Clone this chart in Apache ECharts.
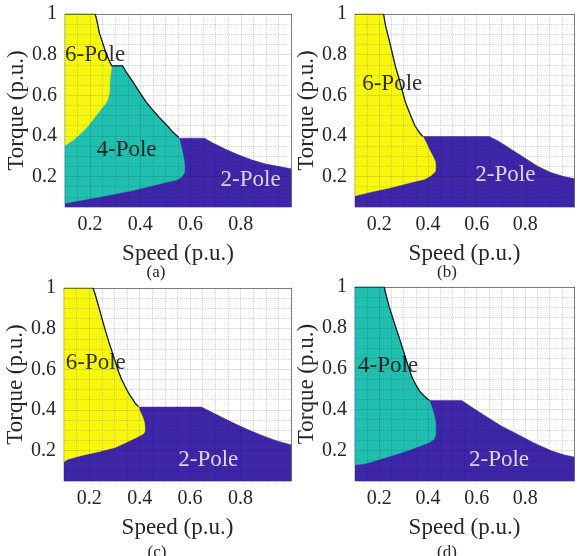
<!DOCTYPE html>
<html>
<head>
<meta charset="utf-8">
<script src="https://cdn.jsdelivr.net/npm/echarts@6/dist/echarts.min.js"></script>
<style>
  html, body { margin: 0; padding: 0; background: #fff; }
  #chart { width: 577px; height: 556px; }
</style>
</head>
<body>
<div id="chart"></div>
<script>
// boundaries, as [speed, torque] in p.u.
// envTop: upper envelope from the top-left corner down to where the 2-pole strip starts
// envRight: upper edge of the 2-pole strip out to speed = 1
// edge: outline of the low-speed region from that corner down to speed = 0.1

// (a)
const envTopA = [[0.1, 1], [0.22, 1], [0.226, 0.972], [0.237, 0.906], [0.25, 0.857], [0.263, 0.808],
  [0.277, 0.767], [0.286, 0.745], [0.329, 0.745], [0.342, 0.718], [0.369, 0.668], [0.395, 0.619],
  [0.421, 0.57], [0.448, 0.529], [0.474, 0.493], [0.5, 0.46], [0.527, 0.422], [0.553, 0.392]];
const envRightA = [[0.553, 0.389], [0.656, 0.389], [0.685, 0.368], [0.738, 0.335], [0.79, 0.307],
  [0.843, 0.282], [0.896, 0.263], [0.948, 0.25], [1.0, 0.238]];
const edgeA = [[0.56, 0.365], [0.566, 0.332], [0.573, 0.291], [0.577, 0.25], [0.576, 0.22], [0.564, 0.197],
  [0.547, 0.184], [0.5, 0.171], [0.435, 0.151], [0.369, 0.131], [0.303, 0.115], [0.237, 0.099],
  [0.171, 0.085], [0.1, 0.069]];
// 6-pole / 4-pole split inside (a)
const splitA = [[0.1, 0.353], [0.132, 0.378], [0.158, 0.406], [0.184, 0.438], [0.211, 0.479],
  [0.237, 0.521], [0.261, 0.558], [0.27, 0.578], [0.277, 0.611], [0.279, 0.677], [0.286, 0.745]];

// (b)
const envTopB = [[0.1, 1], [0.217, 1], [0.226, 0.939], [0.24, 0.874], [0.253, 0.808], [0.266, 0.742],
  [0.28, 0.685], [0.293, 0.627], [0.306, 0.57], [0.319, 0.529], [0.333, 0.488], [0.346, 0.45],
  [0.366, 0.414], [0.379, 0.397]];
const envRightB = [[0.379, 0.397], [0.652, 0.397], [0.692, 0.373], [0.745, 0.332], [0.798, 0.291],
  [0.851, 0.25], [0.905, 0.22], [0.958, 0.2], [1.0, 0.19]];
const edgeB = [[0.393, 0.365], [0.406, 0.332], [0.419, 0.302], [0.43, 0.274], [0.432, 0.25], [0.43, 0.225],
  [0.412, 0.204], [0.386, 0.187], [0.346, 0.176], [0.293, 0.159], [0.24, 0.143], [0.173, 0.126],
  [0.1, 0.105]];

// (c)
const envTopC = [[0.1, 1], [0.215, 1], [0.224, 0.967], [0.237, 0.91], [0.25, 0.852], [0.263, 0.795],
  [0.277, 0.737], [0.29, 0.688], [0.303, 0.639], [0.316, 0.589], [0.329, 0.548], [0.342, 0.516],
  [0.356, 0.483], [0.369, 0.458], [0.382, 0.433], [0.395, 0.417]];
const envRightC = [[0.395, 0.414], [0.645, 0.414], [0.698, 0.381], [0.764, 0.34], [0.83, 0.302],
  [0.896, 0.269], [0.948, 0.246], [1.0, 0.228]];
const edgeC = [[0.402, 0.392], [0.411, 0.368], [0.418, 0.343], [0.421, 0.319], [0.421, 0.294],
  [0.415, 0.282], [0.395, 0.269], [0.369, 0.253], [0.303, 0.215], [0.237, 0.194], [0.171, 0.176],
  [0.118, 0.158], [0.1, 0.145]];

// (d)
const envTopD = [[0.1, 1], [0.22, 1], [0.229, 0.954], [0.24, 0.905], [0.253, 0.856], [0.266, 0.807],
  [0.28, 0.758], [0.293, 0.709], [0.306, 0.66], [0.319, 0.611], [0.333, 0.562], [0.346, 0.529],
  [0.366, 0.489], [0.386, 0.464], [0.406, 0.444]];
const envRightD = [[0.406, 0.444], [0.539, 0.444], [0.585, 0.407], [0.639, 0.366], [0.705, 0.317],
  [0.772, 0.276], [0.838, 0.235], [0.905, 0.199], [0.958, 0.178], [1.0, 0.168]];
const edgeD = [[0.415, 0.415], [0.423, 0.382], [0.43, 0.35], [0.432, 0.317], [0.432, 0.276],
  [0.425, 0.255], [0.406, 0.239], [0.373, 0.224], [0.306, 0.194], [0.24, 0.17], [0.173, 0.145],
  [0.139, 0.134], [0.1, 0.129]];

// region labels: [speed, torque, text]
const labelsA = [[0.22, 0.796, '6-Pole'], [0.345, 0.332, '4-Pole'], [0.839, 0.184, '2-Pole']];
const labelsB = [[0.253, 0.658, '6-Pole'], [0.718, 0.21, '2-Pole']];
const labelsC = [[0.226, 0.63, '6-Pole'], [0.672, 0.155, '2-Pole']];
const labelsD = [[0.236, 0.611, '4-Pole'], [0.692, 0.154, '2-Pole']];

const xTicks = [0.2, 0.4, 0.6, 0.8];
const yTicks = [0.2, 0.4, 0.6, 0.8, 1];
const captions = ['(a)', '(b)', '(c)', '(d)'];

const YELLOW = '#f8f80f';
const TEAL = '#20bfb0';
const BLUE = '#3e26a8';
const FONT = '"Liberation Serif", "Times New Roman", serif';
const MINOR = 'rgba(0,0,0,0.16)';
const MAJOR = 'rgba(0,0,0,0.11)';
const NONE = 'rgba(0,0,0,0)';

const panels = [
  { grid: { left: 65, top: 14, width: 226, height: 193 }, cap: [156, 273],
    env: envTopA, right: envRightA, edge: edgeA, leftColor: TEAL,
    inner: splitA.concat(envTopA.slice(0, 8).reverse()), labels: labelsA },
  { grid: { left: 355, top: 14, width: 225, height: 193 }, cap: [447, 273],
    env: envTopB, right: envRightB, edge: edgeB, leftColor: YELLOW, labels: labelsB },
  { grid: { left: 64, top: 288, width: 227, height: 193 }, cap: [157, 553],
    env: envTopC, right: envRightC, edge: edgeC, leftColor: YELLOW, labels: labelsC },
  { grid: { left: 355, top: 287, width: 225, height: 194 }, cap: [447, 553],
    env: envTopD, right: envRightD, edge: edgeD, leftColor: TEAL, labels: labelsD }
];

function tickText(list) {
  return function (v) {
    const k = Math.round(v * 100);
    return list.some(t => Math.round(t * 100) === k) ? String(k / 100) : '';
  };
}

// draws one filled outline through the axes of panel p
function polygon(p, points, color) {
  return {
    type: 'custom',
    xAxisIndex: 2 * p,
    yAxisIndex: 2 * p,
    silent: true,
    data: points,
    renderItem: function (params, api) {
      if (params.dataIndex !== 0) return;
      return {
        type: 'polygon',
        shape: { points: points.map(pt => api.coord(pt)) },
        style: { fill: color, stroke: color, lineWidth: 0.5 }
      };
    }
  };
}

const grids = [], xAxes = [], yAxes = [], series = [], graphics = [];

panels.forEach((pn, p) => {
  grids.push(pn.grid);

  // bottom/left: tick labels, names and the dotted minor grid
  xAxes.push({
    gridIndex: p, type: 'value', min: 0.1, max: 1, interval: 0.05, position: 'bottom', z: 3,
    axisLine: { show: false }, axisTick: { show: false },
    axisLabel: { formatter: tickText(xTicks), fontFamily: FONT, fontSize: 20, color: '#262626', margin: 8 },
    splitLine: { show: true, lineStyle: { type: 'dotted', width: 1, color: [MINOR, MINOR, NONE, MINOR] } },
    name: 'Speed (p.u.)', nameLocation: 'middle', nameGap: 35,
    nameTextStyle: { fontFamily: FONT, fontSize: 23, color: '#262626' }
  });
  yAxes.push({
    gridIndex: p, type: 'value', min: 0.05, max: 1, interval: 0.05, position: 'left', z: 3,
    axisLine: { show: false }, axisTick: { show: false },
    axisLabel: { formatter: tickText(yTicks), fontFamily: FONT, fontSize: 20, color: '#262626', margin: 8 },
    splitLine: { show: true, lineStyle: { type: 'dotted', width: 1, color: [MINOR, MINOR, MINOR, NONE] } },
    name: 'Torque (p.u.)', nameLocation: 'middle', nameGap: 28,
    nameTextStyle: { fontFamily: FONT, fontSize: 23, color: '#262626' }
  });
  // top/right: box border and the solid major grid
  xAxes.push({
    gridIndex: p, type: 'value', min: 0.1, max: 1, interval: 0.05, position: 'top', z: 3,
    axisLine: { show: true, lineStyle: { color: 'rgba(0,0,0,0.45)', width: 1 } },
    axisTick: { show: false }, axisLabel: { show: false },
    splitLine: { show: true, lineStyle: { type: 'solid', width: 1, color: [NONE, NONE, MAJOR, NONE] } }
  });
  yAxes.push({
    gridIndex: p, type: 'value', min: 0.05, max: 1, interval: 0.05, position: 'right', z: 3,
    axisLine: { show: true, lineStyle: { color: 'rgba(0,0,0,0.45)', width: 1 } },
    axisTick: { show: false }, axisLabel: { show: false },
    splitLine: { show: true, lineStyle: { type: 'solid', width: 1, color: [NONE, NONE, NONE, MAJOR] } }
  });

  // 2-pole: everything under the envelope
  const last = pn.right[pn.right.length - 1];
  series.push(polygon(p, [[0.1, 0.05]].concat(pn.env, pn.right, [[last[0], 0.05]]), BLUE));
  // low-speed region
  series.push(polygon(p, pn.env.concat(pn.edge), pn.leftColor));
  // 6-pole part of (a)
  if (pn.inner) series.push(polygon(p, pn.inner, YELLOW));

  // dark contour along the envelope of the low-speed region
  series.push({
    type: 'line', xAxisIndex: 2 * p, yAxisIndex: 2 * p, silent: true,
    data: pn.env.slice(1), symbol: 'none', z: 4,
    lineStyle: { color: '#10202a', width: 1.3 }
  });

  // region names, white on the dark 2-pole area
  series.push({
    type: 'scatter', xAxisIndex: 2 * p, yAxisIndex: 2 * p, silent: true, z: 5,
    symbolSize: 0,
    data: pn.labels.map(l => ({
      value: [l[0], l[1]], name: l[2],
      label: { color: l[2] === '2-Pole' ? '#ffffff' : '#000000' }
    })),
    label: { show: true, position: 'inside', formatter: '{b}', fontFamily: FONT, fontSize: 23 }
  });

  graphics.push({
    type: 'text', x: pn.cap[0], y: pn.cap[1], z: 10,
    style: { text: captions[p], fontFamily: FONT, fontSize: 17, fill: '#262626', align: 'center', verticalAlign: 'middle' }
  });
});

const chart = echarts.init(document.getElementById('chart'), null, { renderer: 'canvas' });
chart.setOption({
  animation: false,
  backgroundColor: '#ffffff',
  grid: grids,
  xAxis: xAxes,
  yAxis: yAxes,
  series: series,
  graphic: graphics
});
</script>
</body>
</html>
